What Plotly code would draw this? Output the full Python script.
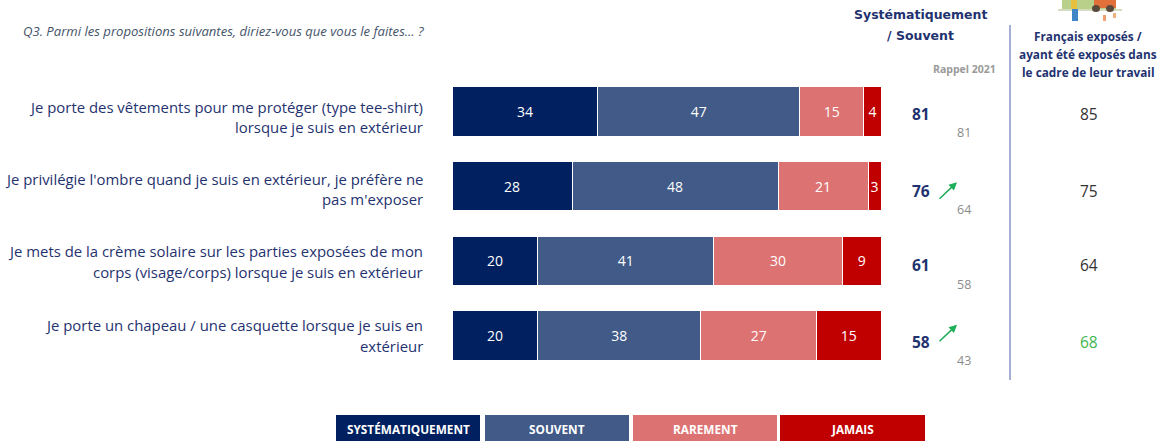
import plotly.graph_objects as go

categories = [
    "Je porte des vêtements pour me protéger (type tee-shirt)<br>lorsque je suis en extérieur",
    "Je privilégie l'ombre quand je suis en extérieur, je préfère ne<br>pas m'exposer",
    "Je mets de la crème solaire sur les parties exposées de mon<br>corps (visage/corps) lorsque je suis en extérieur",
    "Je porte un chapeau / une casquette lorsque je suis en<br>extérieur",
]
series_names = ["SYSTÉMATIQUEMENT", "SOUVENT", "RAREMENT", "JAMAIS"]
systematiquement = [34, 28, 20, 20]
souvent = [47, 48, 41, 38]
rarement = [15, 21, 30, 27]
jamais = [4, 3, 9, 15]
totals = [81, 76, 61, 58]
rappel_2021 = [81, 64, 58, 43]
exposes = [85, 75, 64, 68]
hausse = [False, True, False, True]
exposes_vert = [False, False, False, True]

COLORS = ["#00205f", "#415a87", "#dc7272", "#c00000"]
NAVY = "#1f3370"
W, H = 1167, 441
L, R, T, B = 452, 881, 74, 373
FONT = "Open Sans"

LABEL_OFFSET = [5.5, 3, 0.5, 0]
TOTAL_OFFSET = [2.5, 5, 4.5, 6.5]
RAPPEL_OFFSET = [21.5, 23, 23.5, 24.5]
ARROW_SHIFT = [0, 4, 0, 11]


def px(x):
    return (x - L) / (R - L)


def py(y):
    return 1 - (y - T) / (B - T)


fig = go.Figure()
for name, vals, col in zip(series_names, [systematiquement, souvent, rarement, jamais], COLORS):
    fig.add_bar(
        y=categories, x=vals, name=name, orientation="h",
        marker=dict(color=col, line=dict(color="white", width=1)),
        text=vals, textposition="inside", insidetextanchor="middle",
        textangle=0, constraintext="none",
        textfont=dict(color="white", size=14, family=FONT),
        showlegend=False,
    )

ann = []


def text(x, y, s, size=12, color=NAVY, anchor="center", **kw):
    ann.append(dict(xref="paper", yref="paper", x=px(x), y=py(y), text=s,
                    showarrow=False, xanchor=anchor, yanchor="middle",
                    font=dict(size=size, color=color, family=kw.pop("family", FONT)), **kw))


text(21, 31, "<i>Q3. Parmi les propositions suivantes, diriez-vous que vous le faites... ?</i>", 13.1, "#44546a", "left")
text(920, 15, "<b>Systématiquement</b>", 12.5, NAVY, family="DejaVu Sans")
text(920, 35, "<b>/ Souvent</b>", 12.5, NAVY, family="DejaVu Sans")
text(964, 69, "<b>Rappel 2021</b>", 10.5, "#9a9a9a")
for yy, line in zip([36, 54, 72], ["Français exposés /", "ayant été exposés dans", "le cadre de leur travail"]):
    text(1088, yy, f"<b>{line}</b>", 11.8, NAVY)

for i, c in enumerate(categories):
    for sign, line in zip([-1, 1], c.split("<br>")):
        ann.append(dict(xref="paper", yref="y", x=px(425), y=c, text=line, showarrow=False,
                        xanchor="right", yanchor="middle",
                        yshift=-(LABEL_OFFSET[i] + sign * 10.3),
                        font=dict(size=14.9, color=NAVY, family=FONT)))
    ann.append(dict(xref="paper", yref="y", x=px(921), y=c, text=f"<b>{totals[i]}</b>", showarrow=False,
                    xanchor="center", yanchor="middle", yshift=-TOTAL_OFFSET[i],
                    font=dict(size=15.5, color=NAVY, family=FONT)))
    ann.append(dict(xref="paper", yref="y", x=px(964), y=c, text=str(rappel_2021[i]), showarrow=False,
                    xanchor="center", yanchor="middle", yshift=-RAPPEL_OFFSET[i],
                    font=dict(size=12.5, color="#8c8c8c", family=FONT)))
    ann.append(dict(xref="paper", yref="y", x=px(1089), y=c, text=str(exposes[i]), showarrow=False,
                    xanchor="center", yanchor="middle", yshift=-TOTAL_OFFSET[i],
                    font=dict(size=15.5, color="#3fb54f" if exposes_vert[i] else "#333333", family=FONT)))
    if hausse[i]:
        ann.append(dict(xref="paper", yref="y", x=px(957), y=c, text="", showarrow=True,
                        axref="pixel", ayref="pixel", ax=-19, ay=18, yshift=ARROW_SHIFT[i],
                        arrowhead=2, arrowsize=1, arrowwidth=1.6, arrowcolor="#1fae5a"))

# legend boxes
legend_x = [(336, 480), (485, 629), (633, 777), (780, 925)]
shapes = []
for (x0, x1), name, col in zip(legend_x, series_names, COLORS):
    shapes.append(dict(type="rect", xref="paper", yref="paper", x0=px(x0), x1=px(x1),
                       y0=py(441), y1=py(415), fillcolor=col, line=dict(width=0), layer="above"))
    text((x0 + x1) / 2, 428.5, f"<b>{name}</b>", 11.8, "white")

# separator
shapes.append(dict(type="line", xref="paper", yref="paper", x0=px(1010), x1=px(1010),
                   y0=py(25), y1=py(380), line=dict(color="#8f9bcb", width=1.6)))


def deco(kind, x0, y0, x1, y1, col):
    shapes.append(dict(type=kind, xref="paper", yref="paper", x0=px(x0), x1=px(x1),
                       y0=py(y0), y1=py(y1), fillcolor=col, line=dict(width=0)))


# small illustration at the top right (worker, vehicle, cones)
deco("rect", 1062, 0, 1116, 9, "#b9d08a")
deco("rect", 1058, 9, 1122, 11, "#d5dcc0")
deco("rect", 1094, 0, 1116, 8, "#e2703a")
deco("circle", 1092, 5, 1100, 12, "#5a4a3c")
deco("circle", 1106, 5, 1114, 12, "#5a4a3c")
deco("rect", 1071, 0, 1077, 9, "#e8c040")
deco("rect", 1072, 9, 1078, 21, "#3f86c6")
deco("rect", 1103, 15, 1106, 21, "#f0a070")
deco("rect", 1113, 13, 1116, 18, "#f0b080")

fig.update_layout(
    width=W, height=H, barmode="stack", bargap=0.34,
    margin=dict(l=L, r=W - R, t=T, b=H - B),
    paper_bgcolor="white", plot_bgcolor="white",
    xaxis=dict(range=[0, 100], visible=False),
    yaxis=dict(autorange="reversed", visible=True, showticklabels=False, showgrid=False,
               zeroline=False, ticks="", showline=False),
    annotations=ann, shapes=shapes,
)
fig.write_html("out.html", config={"displayModeBar": False},
               post_script="document.body.style.margin='0';document.documentElement.style.overflow='hidden';")
